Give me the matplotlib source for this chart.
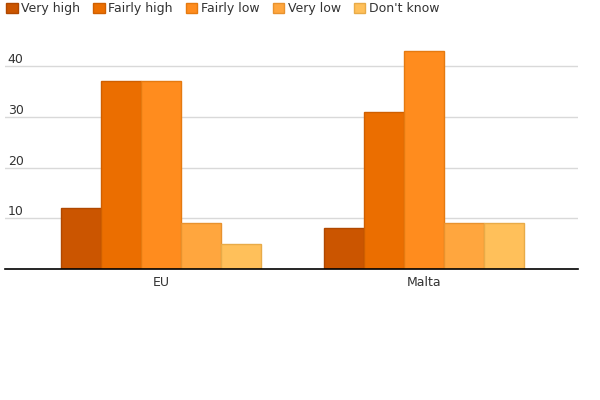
import matplotlib
matplotlib.use("Agg")
import matplotlib.pyplot as plt
import numpy as np

# data
categories = ["EU", "Malta"]
series = ["Very high", "Fairly high", "Fairly low", "Very low", "Don't know"]
very_high = [12, 8]
fairly_high = [37, 31]
fairly_low = [37, 43]
very_low = [9, 9]
dont_know = [5, 9]
values = [very_high, fairly_high, fairly_low, very_low, dont_know]
yticks = [10, 20, 30, 40]

colors = ["#cb5500", "#eb6e00", "#ff8c1e", "#ffa63e", "#ffc05a"]
edges = ["#b04800", "#cf5f00", "#e57a10", "#e8922e", "#e8ab48"]

fig = plt.figure(figsize=(6, 4), dpi=100)
ax = fig.add_axes([5 / 600, 1 - 269 / 400, 573 / 600, 224 / 400])

x = np.arange(len(categories))
width = 0.152
for i, (name, vals) in enumerate(zip(series, values)):
    ax.bar(x + (i - 2) * width, vals, width, color=colors[i],
           edgecolor=edges[i], linewidth=1, label=name, zorder=2)

ax.set_xlim(-0.594, 1.586)
ax.set_ylim(0, 44.2)
ax.set_xticks(x)
ax.set_xticklabels(categories)
ax.set_yticks(yticks)
ax.grid(axis="y", color="#d9d9d9", linewidth=1, zorder=0)
for s in ["top", "right", "left"]:
    ax.spines[s].set_visible(False)
ax.spines["bottom"].set_color("black")
ax.spines["bottom"].set_linewidth(1.2)
ax.spines["bottom"].set_zorder(3)

ax.tick_params(axis="x", length=0, pad=5, labelsize=9, labelcolor="#333333")
ax.tick_params(axis="y", length=0, pad=-2, labelsize=9, labelcolor="#333333")
for lab in ax.get_yticklabels():
    lab.set_horizontalalignment("left")
    lab.set_verticalalignment("bottom")

fig.legend(loc="upper left", bbox_to_anchor=(0.0, 1.01), ncol=5, frameon=False,
           fontsize=9, handlelength=0.9, handleheight=0.9, handletextpad=0.3,
           columnspacing=1.05, borderaxespad=0.1, labelcolor="#333333")

fig.savefig("out.png", dpi=100)
